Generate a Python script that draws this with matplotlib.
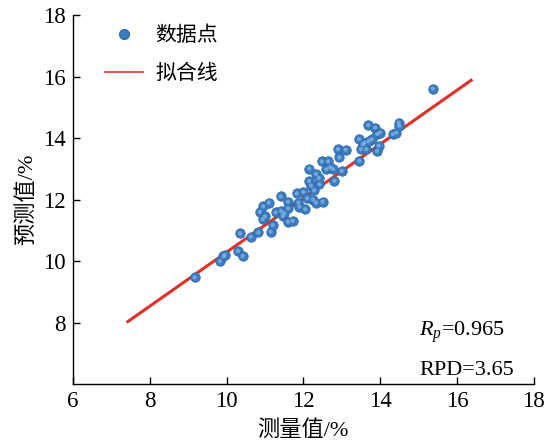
import matplotlib
matplotlib.use("Agg")
import matplotlib.pyplot as plt
from matplotlib.lines import Line2D

measured = [15.37, 9.17, 9.83, 9.92, 9.95, 10.35, 10.30, 10.42, 10.63, 10.83,
            10.87, 10.94, 10.96, 11.10, 11.15, 11.20, 11.28, 11.42, 11.41, 11.46,
            11.60, 11.60, 11.60, 11.72, 11.83, 11.87, 11.90, 12.00, 12.05, 12.15,
            12.15, 12.20, 12.25, 12.33, 12.33, 12.42, 12.50, 12.48, 12.65, 12.60,
            12.78, 12.81, 12.90, 12.94, 13.10, 13.00, 13.45, 13.46, 13.50, 13.69,
            13.60, 13.64, 13.87, 13.92, 14.00, 13.92, 13.96, 13.78, 14.33, 14.42,
            14.48, 14.50, 11.50, 12.10, 12.40, 12.70, 13.55, 13.70, 11.00, 12.28]
predicted = [15.61, 9.47, 10.00, 10.15, 10.20, 10.90, 10.33, 10.17, 10.79, 10.93,
             11.60, 11.36, 11.78, 11.90, 10.96, 11.17, 11.58, 11.63, 12.10, 11.47,
             11.93, 11.71, 11.28, 11.31, 12.20, 11.90, 11.77, 12.25, 11.69, 13.01,
             12.60, 12.45, 12.00, 12.83, 11.90, 12.50, 11.93, 13.24, 13.24, 12.99,
             12.99, 12.61, 13.64, 13.37, 13.62, 12.93, 13.96, 13.26, 13.64, 14.42,
             13.85, 13.64, 14.34, 14.13, 14.18, 13.58, 13.75, 13.96, 14.13, 14.18,
             14.50, 14.40, 11.55, 12.05, 12.70, 13.05, 13.80, 13.90, 11.45, 12.30]

fit_x = [7.43, 16.37]
fit_y = [8.03, 15.88]

xticks = [6, 8, 10, 12, 14, 16, 18]
yticks = [8, 10, 12, 14, 16, 18]

serif = ['Liberation Serif', 'Noto Sans CJK SC']
plt.rcParams['font.family'] = serif
plt.rcParams['mathtext.fontset'] = 'custom'
plt.rcParams['mathtext.rm'] = 'Liberation Serif'
plt.rcParams['mathtext.it'] = 'Liberation Serif:italic'

fig = plt.figure(figsize=(5.48, 4.43), dpi=100)
ax = fig.add_axes([0.133, 0.133, 0.841, 0.833])

ax.plot(fit_x, fit_y, color='#e0302a', lw=2.2, zorder=2)
ax.scatter(measured, predicted, s=46, color='#3b7cc0', edgecolors='#2f6aa8',
           linewidths=0.6, zorder=3)
ax.scatter(measured, predicted, s=9, color='#7fb2e0', edgecolors='none',
           zorder=4, alpha=0.8)

ax.set_xlim(6, 18)
ax.set_ylim(6, 18)
ax.set_xticks(xticks)
ax.set_yticks(yticks)
ax.tick_params(direction='in', length=5, width=1, labelsize=16.5, pad=5)
for s in ['top', 'right']:
    ax.spines[s].set_visible(False)
for s in ['left', 'bottom']:
    ax.spines[s].set_linewidth(1.0)

ax.set_xlabel('测量值/%', fontsize=16, labelpad=6)
ax.set_ylabel('预测值/%', fontsize=16, labelpad=4)

handles = [Line2D([], [], marker='o', ls='none', markersize=7,
                  markerfacecolor='#3b7cc0', markeredgecolor='#2f6aa8'),
           Line2D([], [], color='#e0302a', lw=1.2)]
ax.legend(handles, ['数据点', '拟合线'], loc='upper left', frameon=False,
          fontsize=15, bbox_to_anchor=(0.03, 1.02), handlelength=1.8,
          handletextpad=0.6, labelspacing=0.9)

ax.text(0.752, 0.141, r'$R_p$=0.965', transform=ax.transAxes, fontsize=16,
        va='center', ha='left')
ax.text(0.752, 0.038, 'RPD=3.65', transform=ax.transAxes, fontsize=16,
        va='center', ha='left')

fig.savefig('out.png', dpi=100)
